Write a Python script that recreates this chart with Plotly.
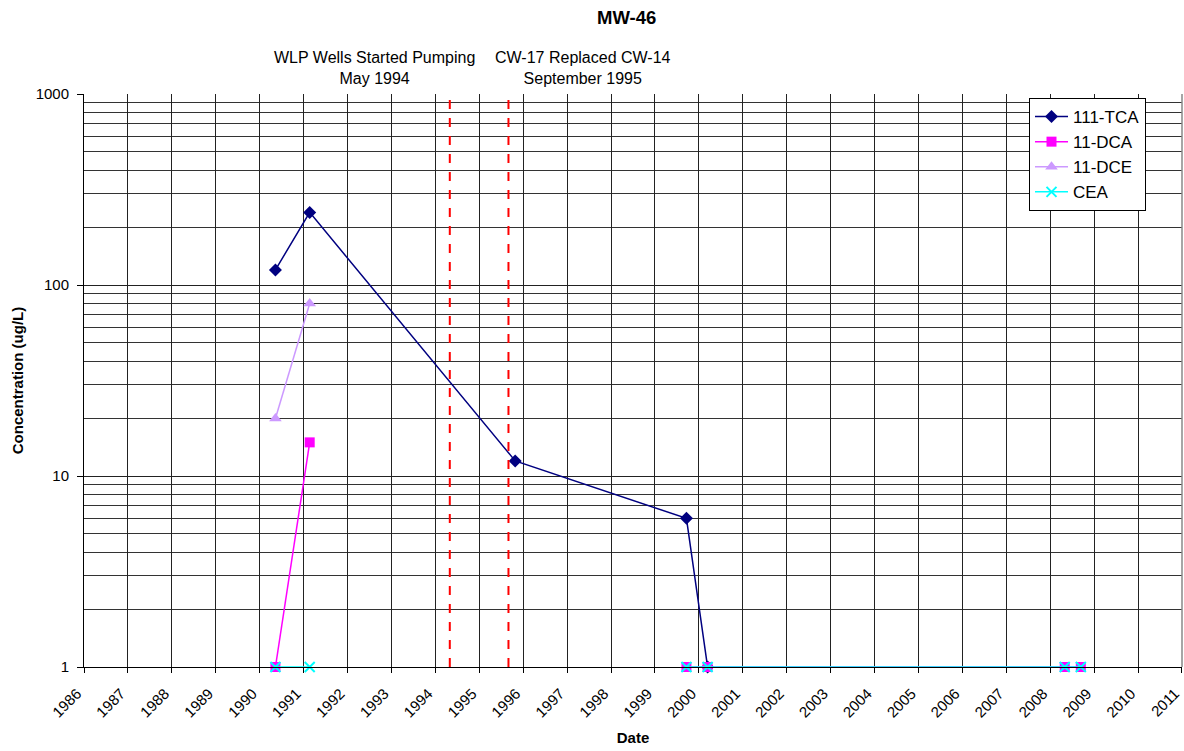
import plotly.graph_objects as go

# Data
tca_dates = ["1990-05-12", "1991-02-21", "1995-10-27", "1999-09-20", "2000-03-14"]
tca_vals = [120, 240, 12, 6, 1]

dca_dates = ["1990-05-12", "1991-02-21", "1995-10-27", "1999-09-20", "2000-03-14", "2008-05-01", "2008-09-12"]
dca_vals = [1, 15, None, 1, 1, 1, 1]

dce_dates = ["1990-05-12", "1991-02-21"]
dce_vals = [20, 80]

cea_dates = ["1990-05-12", "1991-02-21", "1995-10-27", "1999-09-20", "2000-03-14", "2008-05-01", "2008-09-12"]
cea_vals = [1, 1, None, 1, 1, 1, 1]

years = list(range(1986, 2012))
event_dates = ["1994-05-01", "1995-09-01"]
event_labels = ["WLP Wells Started Pumping<br>May 1994", "CW-17 Replaced CW-14<br>September 1995"]

W, H = 1184, 751
# plot-area edges (pixels)
L, R, T, B = 84, 1182, 94, 667

def px(xs):
    return (xs - L) / (R - L)

def py(ys):
    return (B - ys) / (B - T)

fig = go.Figure()
fig.add_trace(go.Scatter(x=tca_dates, y=tca_vals, name="111-TCA", mode="lines+markers",
                         cliponaxis=False,
                         line=dict(color="#000080", width=1.5),
                         marker=dict(symbol="diamond", size=10, color="#000080")))
fig.add_trace(go.Scatter(x=dca_dates, y=dca_vals, name="11-DCA", mode="lines+markers",
                         connectgaps=False, cliponaxis=False,
                         line=dict(color="#FF00FF", width=1.5),
                         marker=dict(symbol="square", size=10, color="#FF00FF")))
fig.add_trace(go.Scatter(x=dce_dates, y=dce_vals, name="11-DCE", mode="lines+markers",
                         cliponaxis=False,
                         line=dict(color="#CC99FF", width=1.5),
                         marker=dict(symbol="triangle-up", size=11, color="#CC99FF")))
fig.add_trace(go.Scatter(x=cea_dates, y=cea_vals, name="CEA", mode="lines+markers",
                         connectgaps=False, cliponaxis=False,
                         line=dict(color="#00FFFF", width=1.5),
                         marker=dict(symbol="x-thin", size=10, color="#00FFFF",
                                     line=dict(color="#00FFFF", width=2))))

for d in event_dates:
    fig.add_shape(type="line", xref="x", yref="paper", x0=d, x1=d, y0=0, y1=1,
                  line=dict(color="#FF0000", width=2, dash="dash"), layer="above")

ann_x = [374, 583]
for lbl, ax in zip(event_labels, ann_x):
    fig.add_annotation(text=lbl, xref="paper", yref="paper",
                       x=px(ax), y=py(68),
                       showarrow=False, font=dict(size=16, color="#000"), align="center",
                       xanchor="center", yanchor="middle")

fig.add_annotation(text="<b>MW-46</b>", xref="paper", yref="paper",
                   x=px(626), y=py(18),
                   showarrow=False, font=dict(size=18.5, color="#000"),
                   xanchor="center", yanchor="middle")

minor_vals = [m * 10 ** e for e in range(0, 3) for m in range(2, 10)]

fig.update_layout(
    width=W, height=H,
    margin=dict(l=L, r=W - R, t=T, b=H - B, autoexpand=False),
    paper_bgcolor="white", plot_bgcolor="white",
    font=dict(family="Liberation Sans, Arial, sans-serif", size=14, color="#000"),
    showlegend=True,
    legend=dict(x=px(1029), y=py(98), xanchor="left", yanchor="top",
                bgcolor="white", bordercolor="#000", borderwidth=1,
                font=dict(size=17), tracegroupgap=0, itemwidth=33),
    xaxis=dict(type="date", range=["1986-01-01", "2011-01-01 06:00"],
               tickvals=[f"{y}-01-01" for y in years], ticktext=[str(y) for y in years],
               tickangle=-45, automargin=False, ticklabeloverflow="allow",
               ticklabelshift=-7, ticklabelstandoff=6,
               ticks="outside", ticklen=5, tickcolor="#000",
               showgrid=True, gridcolor="#222", gridwidth=1,
               showline=True, linecolor="#000", linewidth=1, mirror=False,
               zeroline=False, tickfont=dict(size=15),
               title=dict(text="<b>Date</b>", font=dict(size=15), standoff=12)),
    yaxis=dict(type="log", range=[0, 3], tickvals=[1, 10, 100, 1000],
               ticktext=["1", "10", "100", "1000"], automargin=False,
               ticklabelstandoff=5,
               ticks="outside", ticklen=6, tickcolor="#000",
               showgrid=True, gridcolor="#222", gridwidth=1,
               minor=dict(tickvals=minor_vals, showgrid=True, gridcolor="#333", ticks=""),
               showline=True, linecolor="#000", linewidth=1,
               zeroline=False, tickfont=dict(size=15),
               title=dict(text="<b>Concentration (ug/L)</b>", font=dict(size=15), standoff=8)),
)

fig.add_shape(type="line", xref="paper", yref="paper", x0=1, x1=1, y0=0, y1=1,
              line=dict(color="#888", width=1.5))

fig.write_html("out.html", config={"displayModeBar": False},
               post_script="document.body.style.margin='0';document.body.style.overflow='hidden';")
